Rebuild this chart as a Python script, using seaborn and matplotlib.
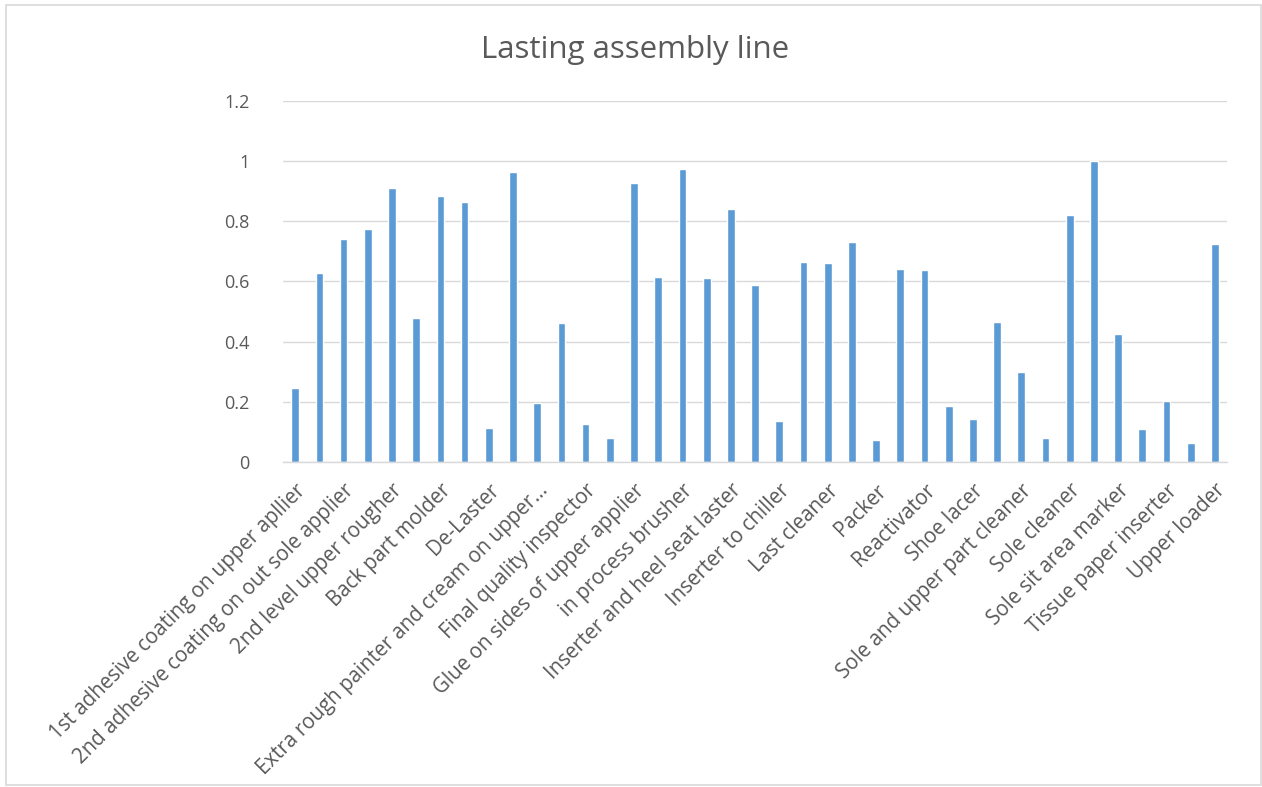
import matplotlib
matplotlib.use("Agg")
import matplotlib.pyplot as plt
from matplotlib.patches import Rectangle
from matplotlib.ticker import FuncFormatter, MultipleLocator
import pandas as pd
import seaborn as sns

# Workstations on the lasting assembly line (alphabetical order)
stations = [
    "1st adhesive coating on upper apllier",
    "1st adhesive dryer",
    "2nd adhesive coating on out sole applier",
    "2nd adhesive coating on upper applier",
    "2nd level upper rougher",
    "Back counter molder",
    "Back part molder",
    "Cement dryer",
    "De-Laster",
    "Edge trimmer",
    "Extra rough painter and cream on upper...",
    "Final cleaner",
    "Final quality inspector",
    "Glue on bottom applier",
    "Glue on sides of upper applier",
    "Heel seat laster",
    "in process brusher",
    "In process checker",
    "Inserter and heel seat laster",
    "Inserter to activator",
    "Inserter to chiller",
    "Insole attacher",
    "Last cleaner",
    "Last remover",
    "Packer",
    "Pre-heater",
    "Reactivator",
    "Shoe finisher",
    "Shoe lacer",
    "Sole activator",
    "Sole and upper part cleaner",
    "Sole attacher",
    "Sole cleaner",
    "Sole presser",
    "Sole sit area marker",
    "Thread trimmer",
    "Tissue paper inserter",
    "Toe laster",
    "Upper loader",
]

# Utilization of each workstation
utilization = [
    0.246, 0.629, 0.740, 0.774, 0.911, 0.479, 0.885, 0.864, 0.112, 0.964,
    0.197, 0.463, 0.125, 0.079, 0.928, 0.616, 0.973, 0.610, 0.841, 0.588,
    0.136, 0.665, 0.660, 0.732, 0.073, 0.643, 0.638, 0.187, 0.142, 0.464,
    0.298, 0.081, 0.821, 1.000, 0.424, 0.110, 0.204, 0.064, 0.724,
]

y_ticks = [0, 0.2, 0.4, 0.6, 0.8, 1.0, 1.2]

title = "Lasting assembly line"

df = pd.DataFrame({"station": stations, "utilization": utilization})

sns.set_theme(style="white")
plt.rcParams["font.family"] = ["Open Sans", "DejaVu Sans"]

TEXT = "#595959"
GRID = "#D9D9D9"
BAR = "#5B9BD5"

fig = plt.figure(figsize=(12.62, 7.87), dpi=100)
ax = fig.add_axes([0.2243, 0.413, 0.748, 0.4587])

sns.barplot(data=df, x="station", y="utilization", color=BAR,
            width=0.32, saturation=1, ax=ax)

ax.set_ylim(y_ticks[0], y_ticks[-1])
ax.set_xlim(-0.5, len(stations) - 0.5)
ax.yaxis.set_major_locator(MultipleLocator(0.2))
ax.yaxis.set_major_formatter(FuncFormatter(lambda v, p: f"{v:g}"))
ax.grid(axis="y", color=GRID, linewidth=1)
ax.set_axisbelow(True)

# Only every second category gets a label
shown = list(range(0, len(stations), 2))
ax.set_xticks(shown)
ax.set_xticklabels([stations[i] for i in shown], rotation=45, ha="right",
                   rotation_mode="anchor", fontsize=14.8, color=TEXT)
ax.tick_params(axis="x", length=0, pad=13)
ax.tick_params(axis="y", length=0, pad=24, labelsize=13, labelcolor=TEXT)

for side in ("left", "right", "top"):
    ax.spines[side].set_visible(False)
ax.spines["bottom"].set_color(GRID)
ax.spines["bottom"].set_linewidth(1)

ax.set_xlabel("")
ax.set_ylabel("")

fig.text(0.503, 0.937, title, ha="center", va="center",
         fontsize=22.5, color=TEXT)

# Light chart-area frame
fig.patches.append(Rectangle((6 / 1262, 2 / 787), 1255 / 1262, 780 / 787,
                             transform=fig.transFigure, fill=False,
                             edgecolor=GRID, linewidth=1.2))

fig.savefig("out.png", dpi=100, facecolor="white")
